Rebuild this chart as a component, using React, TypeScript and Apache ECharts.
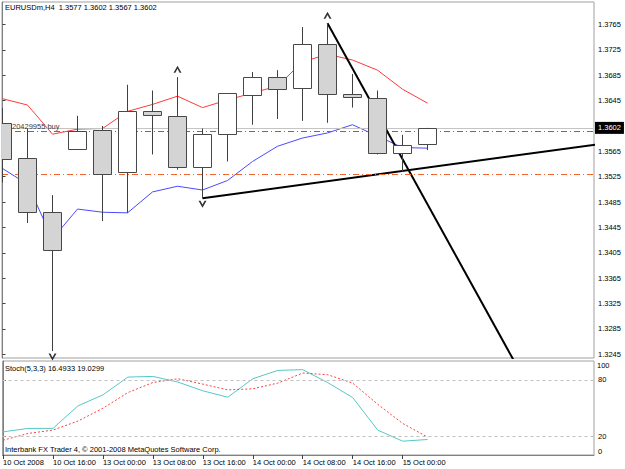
import React, { useEffect, useRef } from 'react';
import * as echarts from 'echarts';

// ---- data (EURUSDm, H4) ----
const barTimes = [
  '10 Oct 08:00', '10 Oct 12:00', '10 Oct 16:00', '10 Oct 20:00',
  '13 Oct 00:00', '13 Oct 04:00', '13 Oct 08:00', '13 Oct 12:00',
  '13 Oct 16:00', '13 Oct 20:00', '14 Oct 00:00', '14 Oct 04:00',
  '14 Oct 08:00', '14 Oct 12:00', '14 Oct 16:00', '14 Oct 20:00',
  '15 Oct 00:00', '15 Oct 04:00',
];
const opens = [1.3609, 1.3554, 1.3469, 1.3568, 1.3599, 1.3532, 1.3628, 1.3621, 1.3541, 1.3592, 1.3654, 1.3682, 1.3665, 1.3734, 1.3656, 1.3649, 1.3562, 1.3577];
const closes = [1.3553, 1.3469, 1.3409, 1.3597, 1.3530, 1.3628, 1.3622, 1.3540, 1.3593, 1.3657, 1.3682, 1.3664, 1.3735, 1.3655, 1.3650, 1.3563, 1.3575, 1.3602];
const lows = [1.3516, 1.3452, 1.3250, 1.3567, 1.3455, 1.3468, 1.3560, 1.3536, 1.3491, 1.3549, 1.3607, 1.3616, 1.3613, 1.3610, 1.3634, 1.3560, 1.3533, 1.3567];
const highs = [1.3633, 1.3601, 1.3496, 1.3621, 1.3605, 1.3670, 1.3661, 1.3682, 1.3601, 1.3657, 1.3690, 1.3693, 1.3761, 1.3767, 1.3687, 1.3661, 1.3591, 1.3602];

const maRed = [1.3648, 1.3638, 1.3592, 1.3600, 1.3601, 1.3628, 1.3639, 1.3652, 1.3634, 1.3646, 1.3657, 1.3668, 1.3706, 1.3718, 1.3709, 1.3693, 1.3663, 1.3641];
const maBlue = [1.3538, 1.3513, 1.3427, 1.3474, 1.3469, 1.3468, 1.3501, 1.3510, 1.3504, 1.3519, 1.3549, 1.3573, 1.3586, 1.3594, 1.3607, 1.3589, 1.3571, 1.3570];

const stochK = [24.6, 28.3, 28.3, 52.2, 64.0, 82.9, 83.6, 77.6, 68.3, 61.5, 81.1, 90.0, 90.8, 77.0, 61.1, 26.5, 14.7, 16.4933];
const stochD = [15.7, 22.9, 26.5, 36.1, 49.7, 66.4, 77.1, 81.1, 75.4, 69.3, 70.4, 76.5, 87.2, 85.4, 76.5, 54.0, 33.6, 19.0299];
const stochLevels = [80, 20];

const fractalUp = [7, 13];
const fractalDown = [2, 8];

const trendLineA = [[8, 1.3491], [24, 1.3577]];
const trendLineB = [[13, 1.3767], [21, 1.3196]];

const orderPrice = 1.3597;
const orderLabel = '20429955 buy';
const stopPrice = 1.3529;

const priceTicks = [1.3245, 1.3285, 1.3325, 1.3365, 1.3405, 1.3445, 1.3485, 1.3525, 1.3565, 1.3645, 1.3685, 1.3725, 1.3765];
const timeTickIndex = [0, 2, 4, 6, 8, 10, 12, 14, 16];
const timeTickLabels = ['10 Oct 2008', '10 Oct 16:00', '13 Oct 00:00', '13 Oct 08:00', '13 Oct 16:00', '14 Oct 00:00', '14 Oct 08:00', '14 Oct 16:00', '15 Oct 00:00'];

const symbolName = 'EURUSDm,H4';
const copyright = 'Interbank FX Trader 4, \u00a9 2001-2008 MetaQuotes Software Corp.';

const FONT = 'Liberation Sans, Arial, sans-serif';
const FS = 7.5;

const X_MIN = -0.02;
const X_MAX = 23.66;

export default function App() {
  const ref = useRef<HTMLDivElement>(null);
  useEffect(() => {
    const chart = echarts.init(ref.current as HTMLDivElement, null, { renderer: 'svg' });
    const last = closes.length - 1;
    const lastClose = closes[last];
    const title = `${symbolName}  ${opens[last].toFixed(4)} ${highs[last].toFixed(4)} ${lows[last].toFixed(4)} ${closes[last].toFixed(4)}`;
    const stochTitle = `Stoch(5,3,3) ${stochK[last].toFixed(4)} ${stochD[last].toFixed(4)}`;
    const labelStyle = { fontFamily: FONT, fontSize: FS, color: '#000' };

    const option: any = {
      animation: false,
      backgroundColor: '#fff',
      textStyle: { fontFamily: FONT },
      grid: [
        { left: 2, top: 2, right: 31, height: 356, show: true, borderColor: '#a0a0a0', borderWidth: 1, backgroundColor: 'transparent' },
        { left: 2, top: 361, right: 31, height: 94, show: true, borderColor: '#a0a0a0', borderWidth: 1, backgroundColor: 'transparent' },
      ],
      xAxis: [
        { type: 'value', gridIndex: 0, min: X_MIN, max: X_MAX, show: false },
        {
          type: 'value', gridIndex: 1, min: X_MIN, max: X_MAX,
          axisLine: { show: true, onZero: false, lineStyle: { color: '#808080' } },
          axisTick: { show: true, customValues: timeTickIndex, length: 4, lineStyle: { color: '#404040' } },
          axisLabel: {
            show: true, customValues: timeTickIndex, align: 'left', margin: 3, ...labelStyle,
            formatter: (v: number) => {
              const k = timeTickIndex.indexOf(Math.round(v));
              return k >= 0 ? timeTickLabels[k] : '';
            },
          },
          splitLine: { show: false },
        },
      ],
      yAxis: [
        {
          type: 'value', gridIndex: 0, position: 'right', min: 1.323914, max: 1.380048,
          axisLine: { show: true, lineStyle: { color: '#808080' } },
          axisTick: { show: true, customValues: priceTicks, length: 3, lineStyle: { color: '#404040' } },
          axisLabel: { customValues: priceTicks, margin: 4, ...labelStyle, formatter: (v: number) => v.toFixed(4) },
          splitLine: { show: false },
        },
        {
          type: 'value', gridIndex: 1, position: 'right', min: 0, max: 100,
          axisLine: { show: true, lineStyle: { color: '#808080' } },
          axisTick: { show: true, customValues: [20, 80], length: 3, lineStyle: { color: '#404040' } },
          axisLabel: { customValues: [20, 80], margin: 4, ...labelStyle },
          splitLine: { show: false },
        },
        {
          type: 'value', gridIndex: 1, position: 'right', min: 0, max: 100,
          axisLine: { show: false },
          axisTick: { show: false },
          axisLabel: { customValues: [100], margin: 3, verticalAlign: 'top', ...labelStyle },
          splitLine: { show: false },
        },
        {
          type: 'value', gridIndex: 1, position: 'right', min: 0, max: 100,
          axisLine: { show: false },
          axisTick: { show: false },
          axisLabel: { customValues: [0], margin: 4, verticalAlign: 'bottom', ...labelStyle },
          splitLine: { show: false },
        },
      ],
      graphic: [
        { type: 'text', left: 5, top: 3, z: 50, style: { text: title, font: `${FS}px ${FONT}`, fill: '#000' } },
        { type: 'text', left: 5, top: 364, z: 50, style: { text: stochTitle, font: `${FS}px ${FONT}`, fill: '#000' } },
        { type: 'text', left: 5, top: 445, z: 50, style: { text: copyright, font: `${FS}px ${FONT}`, fill: '#000' } },
      ],
      series: [
        {
          name: 'MA red', type: 'line', xAxisIndex: 0, yAxisIndex: 0, z: 2, silent: true,
          data: maRed.map((v, i) => [i, v]), showSymbol: false,
          lineStyle: { color: '#ff3a3a', width: 1 },
        },
        {
          name: 'MA blue', type: 'line', xAxisIndex: 0, yAxisIndex: 0, z: 2, silent: true,
          data: maBlue.map((v, i) => [i, v]), showSymbol: false,
          lineStyle: { color: '#4a4aff', width: 1 },
          markLine: {
            silent: true, symbol: ['none', 'none'], animation: false, precision: 6,
            data: [
              {
                yAxis: lastClose,
                lineStyle: { color: '#c4c4c4', type: 'solid', width: 1 },
                label: {
                  show: true, position: 'end', distance: 1, formatter: lastClose.toFixed(4),
                  backgroundColor: '#000', color: '#fff', padding: [2, 3, 2, 3], fontFamily: FONT, fontSize: FS,
                },
              },
              {
                yAxis: orderPrice,
                lineStyle: { color: '#2a9d2a', type: [6, 3, 1, 3], width: 1 },
                label: {
                  show: true, position: 'insideStartTop', distance: [10, 1], formatter: orderLabel,
                  color: '#404040', fontFamily: FONT, fontSize: FS,
                },
              },
              {
                yAxis: stopPrice,
                lineStyle: { color: '#f0642d', type: [6, 3, 1, 3], width: 1 },
                label: { show: false },
              },
            ],
          },
        },
        {
          name: 'Trend A', type: 'line', xAxisIndex: 0, yAxisIndex: 0, z: 3, silent: true,
          data: trendLineA, showSymbol: false, lineStyle: { color: '#000', width: 2 },
        },
        {
          name: 'Trend B', type: 'line', xAxisIndex: 0, yAxisIndex: 0, z: 3, silent: true,
          data: trendLineB, showSymbol: false, lineStyle: { color: '#000', width: 2 },
        },
        {
          name: 'Candles', type: 'custom', xAxisIndex: 0, yAxisIndex: 0, z: 10, clip: true, silent: true,
          data: barTimes.map((_, i) => [i, opens[i], closes[i], lows[i], highs[i]]),
          encode: { x: 0, y: [1, 2, 3, 4] },
          renderItem: (params: any, api: any) => {
            const i = api.value(0);
            const o = api.value(1);
            const c = api.value(2);
            const l = api.value(3);
            const h = api.value(4);
            const pTop = api.coord([i, Math.max(o, c)]);
            const pBot = api.coord([i, Math.min(o, c)]);
            const pHi = api.coord([i, h]);
            const pLo = api.coord([i, l]);
            const cx = Math.floor(pTop[0]) + 0.5;
            const half = Math.round(api.size([1, 0])[0] * 0.36);
            const yT = Math.round(pTop[1]) + 0.5;
            const yB = Math.max(yT + 2, Math.round(pBot[1]) + 0.5);
            const bull = c >= o;
            return {
              type: 'group',
              children: [
                { type: 'line', shape: { x1: cx, y1: pHi[1], x2: cx, y2: pLo[1] }, style: { stroke: '#404040', lineWidth: 1 } },
                {
                  type: 'rect',
                  shape: { x: cx - half, y: yT, width: half * 2, height: yB - yT },
                  style: { fill: bull ? '#ffffff' : '#d4d4d4', stroke: '#484848', lineWidth: 1 },
                },
              ],
            };
          },
        },
        {
          name: 'Fractal up', type: 'scatter', xAxisIndex: 0, yAxisIndex: 0, z: 11, silent: true, clip: false,
          data: fractalUp.map((i) => [i, highs[i]]),
          symbol: 'path://M0,10L5,0L10,10L7.6,10L5,4.6L2.4,10Z', symbolSize: [8, 7], symbolOffset: [0, -8],
          itemStyle: { color: '#000' },
        },
        {
          name: 'Fractal down', type: 'scatter', xAxisIndex: 0, yAxisIndex: 0, z: 11, silent: true, clip: false,
          data: fractalDown.map((i) => [i, lows[i]]),
          symbol: 'path://M0,0L5,10L10,0L7.6,0L5,5.4L2.4,0Z', symbolSize: [8, 7], symbolOffset: [0, 6],
          itemStyle: { color: '#000' },
        },
        {
          name: 'Stoch main', type: 'line', xAxisIndex: 1, yAxisIndex: 1, z: 3, silent: true,
          data: stochK.map((v, i) => [i, v]), showSymbol: false,
          lineStyle: { color: '#55c8c8', width: 1 },
          markLine: {
            silent: true, symbol: ['none', 'none'], animation: false, precision: 6,
            lineStyle: { color: '#c0c0c0', type: [3, 3], width: 1 },
            label: { show: false },
            data: stochLevels.map((v) => ({ yAxis: v })),
          },
        },
        {
          name: 'Stoch signal', type: 'line', xAxisIndex: 1, yAxisIndex: 1, z: 3, silent: true,
          data: stochD.map((v, i) => [i, v]), showSymbol: false,
          lineStyle: { color: '#ff4040', width: 1, type: [2, 2] },
        },
      ],
    };
    chart.setOption(option);
    return () => chart.dispose();
  }, []);
  return <div ref={ref} style={{ position: 'fixed', left: 0, top: 0, width: 625, height: 469, background: '#fff' }} />;
}
